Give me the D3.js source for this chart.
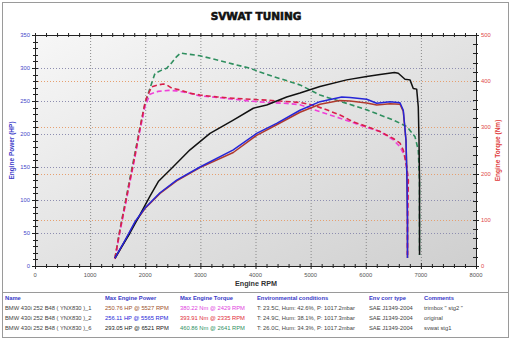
<!DOCTYPE html>
<html>
<head>
<meta charset="utf-8">
<script src="https://cdn.jsdelivr.net/npm/d3@7"></script>
<style>
  html, body { margin: 0; padding: 0; background: #fff; }
  svg { display: block; }
</style>
</head>
<body>
<svg id="chart" width="512" height="342"></svg>
<script>
// ---- Dyno run data ----
const title = "SVWAT TUNING";

// Run _1 (trimbox " stg2 ")
const run1Rpm   = [1451,1633,1814,1995,2268,2570,2993,3597,4021,4384,4807,5170,5527,5714,6017,6199,6440,6621,6681,6730,6748,6757,6757];
const run1Power = [11,38,66,87,110,129,149,172,198,214,233,245,250.76,250,247,244,246,245,234,190,130,70,12];
const run1TqRpm = [1451,1542,1633,1723,1814,1905,1995,2086,2237,2429,2570,2812,2993,3296,3597,3900,4203,4566,4807,5170,5533,5896,6259,6500,6621,6712,6772,6757,6757];
const run1Torque= [15,75,128,182,236,294,345,372,378,380.22,379,374,368,365,361,357,354,352,349,334,320,305,291,273,258,237,186,100,24];

// Run _2 (original)
const run2Rpm   = [1451,1633,1814,1995,2268,2570,2993,3597,4021,4384,4807,5170,5565,5714,6017,6199,6440,6621,6681,6730,6748,6757,6757];
const run2Power = [12,39,67,88,111,130,150,176,201,216,236,249,256.11,255.3,252.6,246.5,249,247.4,236,191,130,70,12];
const run2TqRpm = [1451,1542,1633,1723,1814,1905,1995,2026,2117,2237,2335,2389,2480,2630,2812,2993,3296,3597,3900,4203,4444,4807,5048,5291,5533,5774,6017,6259,6500,6621,6681,6743,6772,6757,6757];
const run2Torque= [17,78,132,186,240,299,353,365,388,392,393.91,392,385,381,374,370,366,363,361,359,357,354,348,338,327,312,302,291,276,266,251,215,186,100,24];

// Run _6 (svwat stg1)
const run6Rpm   = [1451,1542,1723,1905,2086,2237,2480,2812,3175,3597,3960,4203,4566,4807,5170,5654,6017,6259,6521,6590,6712,6803,6862,6924,6953,6966,6975,6975,6976];
const run6Power = [12,25,50,78,106,128,148,176,201,221,239,244,256,262,272,282,287,290,293.05,292,283,282,269,268,241,191,130,70,17];
const run6TqRpm = [1451,1542,1633,1723,1814,1905,1995,2086,2177,2298,2389,2480,2560,2641,2812,2993,3234,3597,3900,4081,4324,4626,4807,5170,5654,6017,6259,6500,6743,6893,6953,6975,6975,6976];
const run6Torque= [17,80,135,190,245,300,350,385,417,424,428,440,452,460.86,458,455,448,437,428,420,410,399,392,370,352,338,327,316,302,280,251,186,100,24];

// Axis ticks
const rpmTicks = [0,1000,2000,3000,4000,5000,6000,7000,8000];
const hpTicks  = [0,50,100,150,200,250,300,350];
const nmTicks  = [0,100,200,300,400,500];

// Summary table
const tableHeaders = ["Name","Max Engine Power","Max Engine Torque","Environmental conditions","Env corr type","Comments"];
const runNames   = ["BMW 430i 252 B48 ( YNX830 )_1","BMW 430i 252 B48 ( YNX830 )_2","BMW 430i 252 B48 ( YNX830 )_6"];
const maxPower   = ["250.76 HP @ 5527 RPM","256.11 HP @ 5565 RPM","293.05 HP @ 6521 RPM"];
const maxTorque  = ["380.22 Nm @ 2429 RPM","393.91 Nm @ 2335 RPM","460.86 Nm @ 2641 RPM"];
const envCond    = ["T: 23.5C, Hum: 42.6%, P: 1017.2mbar","T: 24.9C, Hum: 38.1%, P: 1017.3mbar","T: 26.0C, Hum: 34.3%, P: 1017.2mbar"];
const corrType   = ["SAE J1349-2004","SAE J1349-2004","SAE J1349-2004"];
const comments   = ["trimbox \" stg2 \"","original","svwat stg1"];

// ---- Layout ----
const svg = d3.select("#chart");
const L = 35, R = 476, T = 35, B = 266;
const font = "'Liberation Sans', Arial, sans-serif";

const x   = d3.scaleLinear().domain([0, 8000]).range([L, R]);
const yHp = d3.scaleLinear().domain([0, 350]).range([B, T]);
const yNm = d3.scaleLinear().domain([0, 500]).range([B, T]);

// Frames
svg.append("rect").attr("x", 2.5).attr("y", 2.5).attr("width", 506).attr("height", 290)
  .attr("fill", "#fff").attr("stroke", "#9a9a9a");
svg.append("rect").attr("x", 2.5).attr("y", 292.5).attr("width", 506).attr("height", 45)
  .attr("fill", "#fff").attr("stroke", "#9a9a9a");

// Title
svg.append("text").attr("x", 256).attr("y", 20).attr("text-anchor", "middle")
  .attr("font-family", "'DejaVu Sans', sans-serif").attr("font-weight", "900")
  .attr("font-size", 10.5).attr("fill", "#111").attr("stroke", "#111").attr("stroke-width", 0.6)
  .text(title);

// Plot background gradient
const defs = svg.append("defs");
const grad = defs.append("linearGradient").attr("id", "bg")
  .attr("x1", "0").attr("y1", "0").attr("x2", "1").attr("y2", "1");
grad.append("stop").attr("offset", "0%").attr("stop-color", "#f7f7f7");
grad.append("stop").attr("offset", "100%").attr("stop-color", "#cfcfcf");
svg.append("rect").attr("x", L).attr("y", T).attr("width", R - L).attr("height", B - T)
  .attr("fill", "url(#bg)");

// Grid
const grid = svg.append("g");
grid.selectAll(".vg").data(rpmTicks.slice(1, -1)).join("line")
  .attr("x1", d => x(d) + 0.5).attr("x2", d => x(d) + 0.5).attr("y1", T).attr("y2", B)
  .attr("stroke", "#8a8a8a").attr("stroke-dasharray", "1,2");
grid.selectAll(".hg").data(hpTicks.slice(1, -1)).join("line")
  .attr("x1", L).attr("x2", R).attr("y1", d => Math.round(yHp(d)) + 0.5).attr("y2", d => Math.round(yHp(d)) + 0.5)
  .attr("stroke", "#8e8eb0").attr("stroke-dasharray", "1,2");
grid.selectAll(".ng").data(nmTicks.slice(1, -1)).join("line")
  .attr("x1", L).attr("x2", R).attr("y1", d => Math.round(yNm(d)) + 0.5).attr("y2", d => Math.round(yNm(d)) + 0.5)
  .attr("stroke", "#e6a070").attr("stroke-dasharray", "1,2");

// Axes
const axisG = svg.append("g").attr("font-family", font);

// axis frame
axisG.append("rect").attr("x", L + 0.5).attr("y", T + 0.5).attr("width", R - L).attr("height", B - T)
  .attr("fill", "none").attr("stroke", "#222");

// bottom and top ticks (RPM)
const rpmMinor = d3.range(0, 8001, 200);
axisG.selectAll(".bt").data(rpmMinor).join("line")
  .attr("x1", d => x(d) + 0.5).attr("x2", d => x(d) + 0.5)
  .attr("y1", d => B - (d % 1000 === 0 ? 3 : 2)).attr("y2", d => B + (d % 1000 === 0 ? 3 : 2))
  .attr("stroke", "#222");
axisG.selectAll(".tt").data(rpmMinor).join("line")
  .attr("x1", d => x(d) + 0.5).attr("x2", d => x(d) + 0.5)
  .attr("y1", T - 2).attr("y2", T + 2).attr("stroke", "#222");
axisG.selectAll(".bl").data(rpmTicks).join("text")
  .attr("x", d => x(d)).attr("y", 277).attr("text-anchor", "middle")
  .attr("font-size", 5.8).attr("fill", "#555").text(d => d);

// left ticks (HP)
const hpMinor = d3.range(0, 351, 10);
axisG.selectAll(".lt").data(hpMinor).join("line")
  .attr("x1", d => L - (d % 50 === 0 ? 3 : 2)).attr("x2", L + 3)
  .attr("y1", d => Math.round(yHp(d)) + 0.5).attr("y2", d => Math.round(yHp(d)) + 0.5)
  .attr("stroke", "#222");
axisG.selectAll(".ll").data(hpTicks).join("text")
  .attr("x", 30).attr("y", d => yHp(d) + 2).attr("text-anchor", "end")
  .attr("font-size", 5.8).attr("fill", "#4646c8").text(d => d);

// right ticks (Nm)
const nmMinor = d3.range(0, 501, 20);
axisG.selectAll(".rt").data(nmMinor).join("line")
  .attr("x1", R - 3).attr("x2", d => R + (d % 100 === 0 ? 3 : 2))
  .attr("y1", d => Math.round(yNm(d)) + 0.5).attr("y2", d => Math.round(yNm(d)) + 0.5)
  .attr("stroke", "#222");
axisG.selectAll(".rl").data(nmTicks).join("text")
  .attr("x", 481).attr("y", d => yNm(d) + 2).attr("text-anchor", "start")
  .attr("font-size", 5.8).attr("fill", "#e04848").text(d => d);

// axis titles
axisG.append("text").attr("transform", `translate(14,${(T + B) / 2}) rotate(-90)`)
  .attr("text-anchor", "middle").attr("font-size", 6.5).attr("font-weight", "bold")
  .attr("fill", "#3c3cc8").text("Engine Power (HP)");
axisG.append("text").attr("transform", `translate(500,${(T + B) / 2}) rotate(-90)`)
  .attr("text-anchor", "middle").attr("font-size", 6.5).attr("font-weight", "bold")
  .attr("fill", "#e03a3a").text("Engine Torque (Nm)");
axisG.append("text").attr("x", 256).attr("y", 286).attr("text-anchor", "middle")
  .attr("font-size", 7.2).attr("font-weight", "bold").attr("fill", "#333").text("Engine RPM");

// ---- Curves ----
const hpLine = d3.line().x(d => x(d[0])).y(d => yHp(d[1]));
const nmLine = d3.line().x(d => x(d[0])).y(d => yNm(d[1]));
const zip = (a, b) => a.map((v, i) => [v, b[i]]);

const curves = svg.append("g").attr("fill", "none").attr("stroke-linejoin", "round");

const torqueSeries = [
  { rpm: run6TqRpm, v: run6Torque, color: "#2f8f5f" },
  { rpm: run1TqRpm, v: run1Torque, color: "#f040d8" },
  { rpm: run2TqRpm, v: run2Torque, color: "#d8204a" }
];
torqueSeries.forEach(s => {
  curves.append("path").attr("d", nmLine(zip(s.rpm, s.v)))
    .attr("stroke", s.color).attr("stroke-width", 1.6).attr("stroke-dasharray", "5,3");
});

const powerSeries = [
  { rpm: run1Rpm, v: run1Power, color: "#b03a2e" },
  { rpm: run6Rpm, v: run6Power, color: "#111111" },
  { rpm: run2Rpm, v: run2Power, color: "#2626d8" }
];
powerSeries.forEach(s => {
  curves.append("path").attr("d", hpLine(zip(s.rpm, s.v)))
    .attr("stroke", s.color).attr("stroke-width", 1.5);
});

// ---- Summary table ----
const colX = [5, 105, 180, 257, 369, 424];
const tbl = svg.append("g").attr("font-family", font).attr("font-size", 5.8);
tbl.selectAll(".th").data(tableHeaders).join("text")
  .attr("x", (d, i) => colX[i]).attr("y", 300)
  .attr("font-weight", "bold").attr("fill", "#3a3ac8").text(d => d);

const powerColors  = ["#a0522d", "#2626d8", "#222"];
const torqueColors = ["#e040e0", "#e02a3a", "#2f8f5f"];
const rowY = [310, 320, 330];
runNames.forEach((n, i) => {
  const cells = [n, maxPower[i], maxTorque[i], envCond[i], corrType[i], comments[i]];
  const colors = ["#444", powerColors[i], torqueColors[i], "#444", "#444", "#444"];
  cells.forEach((c, j) => {
    tbl.append("text").attr("x", colX[j]).attr("y", rowY[i]).attr("fill", colors[j]).text(c);
  });
});
</script>
</body>
</html>
